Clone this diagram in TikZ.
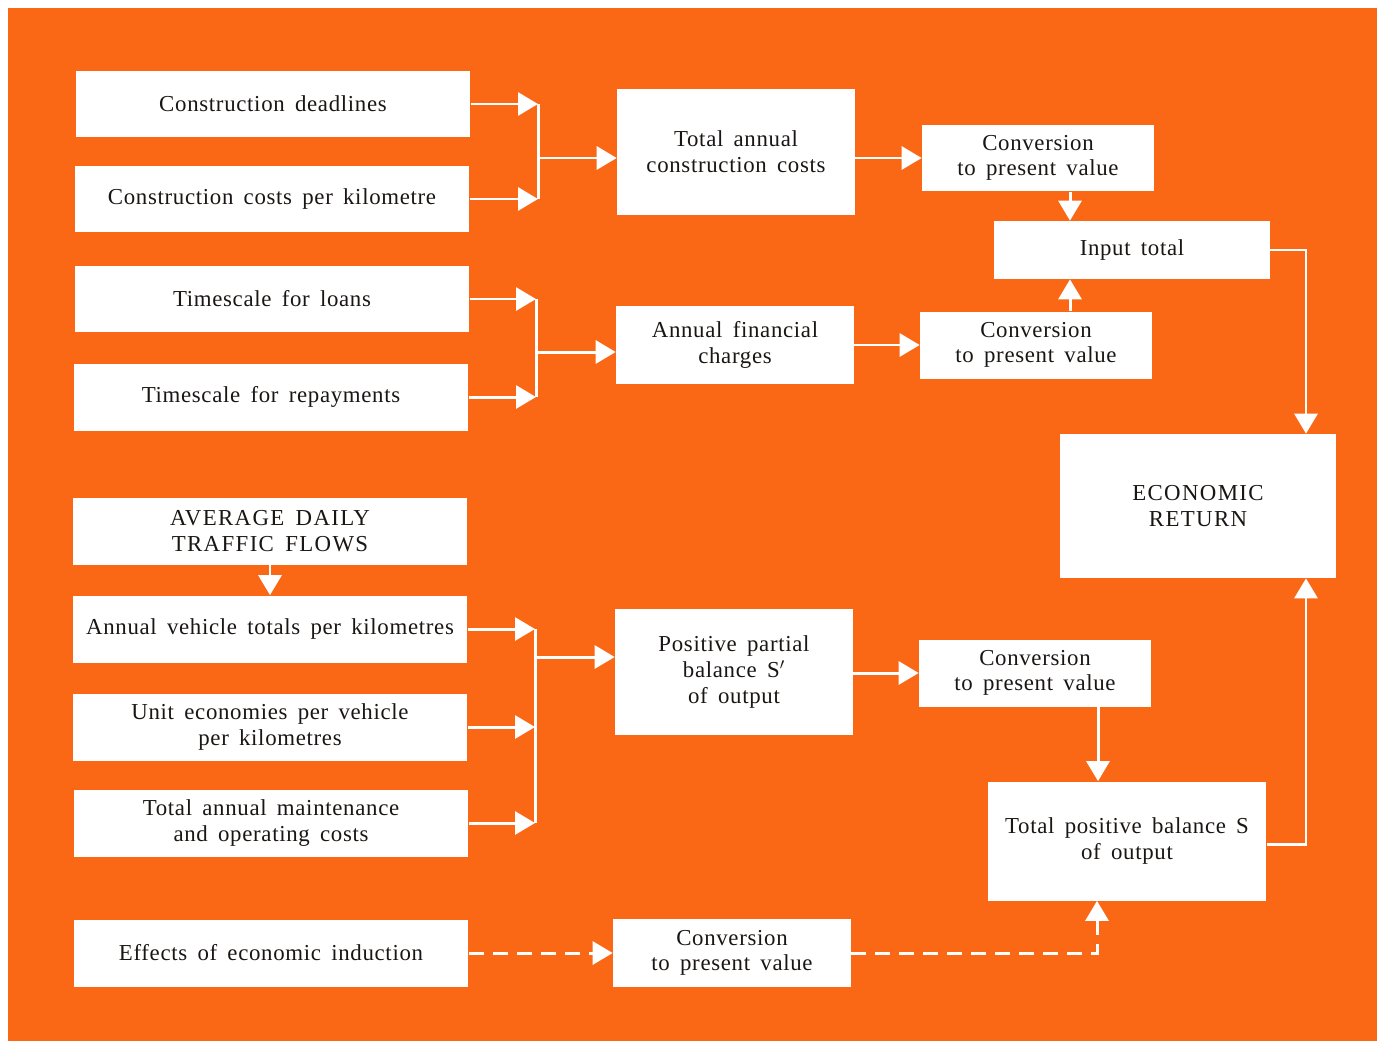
\documentclass[tikz,border=0pt]{standalone}
\usepackage{fontspec}
\setmainfont{Liberation Serif}[WordSpace=1.6,LetterSpace=3]
\usetikzlibrary{arrows.meta,positioning,calc}
\definecolor{sheet}{HTML}{FA6816}
\definecolor{ink}{HTML}{1A1614}

\begin{document}
\begin{tikzpicture}[x=0.02cm,y=-0.02cm,
 n/.style={fill=white,text=ink,align=center,inner sep=0pt,font=\fontsize{13}{14.6}\selectfont},
 l/.style={n,minimum width=7.9cm,minimum height=1.34cm},
 m/.style={n,minimum width=4.76cm},
 r/.style={n,minimum width=4.64cm,minimum height=1.34cm},
 caps/.style={font=\fontsize{13}{14.6}\selectfont\addfontfeature{LetterSpace=6}},
 a/.style={-{Triangle[length=4mm,width=4.6mm]},draw=white,line width=1.7pt},
 j/.style={draw=white,line width=1.7pt},
 da/.style={a,dash pattern=on 3mm off 1.8mm}
]
\useasboundingbox (0,0) rectangle (1381,1041);
\fill[white] (0,0) rectangle (1381,1041);
\fill[sheet] (8,8) rectangle (1377,1041);

% left column
\node[l] (cd) at (273,104) {Construction deadlines};
\node[l] (ck) at (272,199) {Construction costs per kilometre};
\node[l] (tl) at (272,299) {Timescale for loans};
\node[l] (tr) at (271,397) {Timescale for repayments};
\node[l,caps] (ad) at (270,531) {AVERAGE DAILY\\TRAFFIC FLOWS};
\node[l] (av) at (270,629) {Annual vehicle totals per kilometres};
\node[l] (ue) at (270,727) {Unit economies per vehicle\\per kilometres};
\node[l] (tm) at (271,823) {Total annual maintenance\\and operating costs};
\node[l] (ei) at (271,953) {Effects of economic induction};

% middle column
\node[m,minimum height=2.52cm] (tc) at (736,152) {Total annual\\construction costs};
\node[m,minimum height=1.56cm] (af) at (735,345) {Annual financial\\charges};
\node[m,minimum height=2.52cm] (pp) at (734,672) {Positive partial\\balance S$'$\\of output};
\node[m,minimum height=1.36cm] (c4) at (732,953) {Conversion\\to present value};

% right column
\node[r] (c1) at (1038,158) {Conversion\\to present value};
\node[n,minimum width=5.52cm,minimum height=1.16cm] (it) at (1132,250) {Input total};
\node[r] (c2) at (1036,345) {Conversion\\to present value};
\node[n,caps,minimum width=5.52cm,minimum height=2.88cm] (er) at (1198,506) {ECONOMIC\\RETURN};
\node[r] (c3) at (1035,673) {Conversion\\to present value};
\node[n,minimum width=5.58cm,minimum height=2.38cm] (tp) at (1127,841) {Total positive balance S\\of output};

% junctions
\coordinate (j1) at (538,158);
\coordinate (j2) at (536,352);
\coordinate (j3) at (535,657);

\draw[a] (cd.east) -- (cd.east -| j1);
\draw[a] (ck.east) -- (ck.east -| j1);
\draw[j] (cd.east -| j1) -- (ck.east -| j1);
\draw[a] (j1) -- (j1 -| tc.west);

\draw[a] (tl.east) -- (tl.east -| j2);
\draw[a] (tr.east) -- (tr.east -| j2);
\draw[j] (tl.east -| j2) -- (tr.east -| j2);
\draw[a] (j2) -- (j2 -| af.west);

\draw[a] (ad.south) -- (av.north);
\draw[a] (av.east) -- (av.east -| j3);
\draw[a] (ue.east) -- (ue.east -| j3);
\draw[a] (tm.east) -- (tm.east -| j3);
\draw[j] (av.east -| j3) -- (tm.east -| j3);
\draw[a] (j3) -- (j3 -| pp.west);

\draw[a] (c1.west -| tc.east) -- (c1.west);
\draw[a] ([xshift=0.64cm]c1.south) -- ([xshift=0.64cm]c1.south |- it.north);
\draw[a] (c2.west -| af.east) -- (c2.west);
\draw[a] ([xshift=0.68cm]c2.north) -- ([xshift=0.68cm]c2.north |- it.south);
\draw[a] (it.east) -| ([xshift=2.16cm]er.north);
\draw[a] (c3.west -| pp.east) -- (c3.west);
\draw[a] ([xshift=1.26cm]c3.south) -- ([xshift=1.26cm]c3.south |- tp.north);
\draw[a] ([yshift=-0.06cm]tp.east) -| ([xshift=2.16cm]er.south);

\draw[da] (ei.east) -- (c4.west);
\draw[da] (c4.east) -| ([xshift=-0.6cm]tp.south);
\end{tikzpicture}
\end{document}
